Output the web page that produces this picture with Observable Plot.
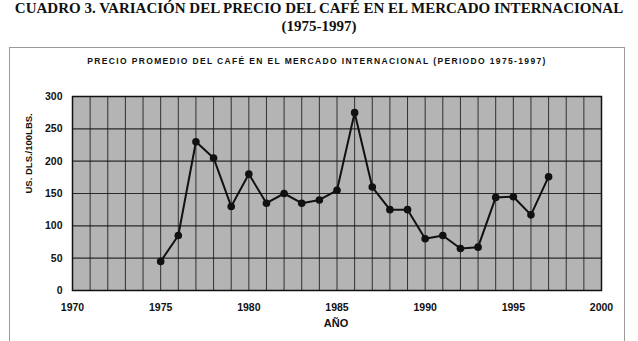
<!DOCTYPE html>
<html>
<head>
<meta charset="utf-8">
<script src="https://cdn.jsdelivr.net/npm/d3@7"></script>
<script src="https://cdn.jsdelivr.net/npm/@observablehq/plot@0.6"></script>
<style>
  html, body { margin: 0; padding: 0; background: #fff; }
  #wrap { position: relative; width: 638px; height: 341px; overflow: hidden; }
  .t1 { position: absolute; left: 0; width: 638px; top: 0px; text-align: center; white-space: nowrap;
        font-family: "Liberation Serif", "Times New Roman", serif; font-weight: bold; font-size: 15px; line-height: 17px; color: #111; }
  .t2 { position: absolute; left: 0; width: 638px; top: 18px; text-align: center; white-space: nowrap;
        font-family: "Liberation Serif", "Times New Roman", serif; font-weight: bold; font-size: 15px; line-height: 17px; color: #111; }
  .box { position: absolute; left: 9px; top: 47px; width: 616px; height: 320px;
         border: 1px solid #9a9a9a; box-sizing: border-box; }
  .sub { position: absolute; left: 0; width: 634px; top: 56px; text-align: center; white-space: nowrap;
         font-family: "Liberation Sans", Arial, sans-serif; font-weight: bold; font-size: 8.5px;
         letter-spacing: 1.35px; color: #111; }
  #chart { position: absolute; left: 0; top: 70px; }
</style>
</head>
<body>
<div id="wrap">
  <div class="t1">CUADRO 3. VARIACIÓN DEL PRECIO DEL CAFÉ EN EL MERCADO INTERNACIONAL</div>
  <div class="t2">(1975-1997)</div>
  <div class="box"></div>
  <div class="sub">PRECIO PROMEDIO DEL CAFÉ EN EL MERCADO INTERNACIONAL (PERIODO 1975-1997)</div>
  <div id="chart"></div>
</div>
<script>
const years = [1975,1976,1977,1978,1979,1980,1981,1982,1983,1984,1985,1986,1987,1988,1989,1990,1991,1992,1993,1994,1995,1996,1997];
const prices = [45,85,230,205,130,180,135,150,135,140,155,275,160,125,125,80,85,65,67,144,145,117,176];
const xTicks = [1970,1975,1980,1985,1990,1995,2000];
const yTicks = [0,50,100,150,200,250,300];
const gridYears = d3.range(1970, 2001);

const data = years.map((y, i) => ({year: y, price: prices[i]}));

const chart = Plot.plot({
  width: 638,
  height: 271,
  marginLeft: 72,
  marginRight: 37,
  marginTop: 26,
  marginBottom: 51,
  style: {fontFamily: "Liberation Sans, Arial, sans-serif", fontSize: "10.5px", fontWeight: "bold", color: "#111", background: "transparent"},
  x: {domain: [1970, 2000], label: null},
  y: {domain: [0, 300], label: null},
  marks: [
    Plot.frame({fill: "#b4b4b4", stroke: null}),
    Plot.gridX(gridYears, {stroke: "#1a1a1a", strokeOpacity: 0.85, strokeWidth: 1}),
    Plot.gridY(yTicks, {stroke: "#1a1a1a", strokeOpacity: 0.9, strokeWidth: 1.2}),
    Plot.frame({stroke: "#111", strokeWidth: 1.5}),
    Plot.axisX(xTicks, {tickSize: 0, tickPadding: 13, tickFormat: d => String(d), style: "letter-spacing:1.5px"}),
    Plot.axisY(yTicks, {tickSize: 0, tickPadding: 10, style: "letter-spacing:0.5px"}),
    Plot.line(data, {x: "year", y: "price", stroke: "#111", strokeWidth: 2}),
    Plot.dot(data, {x: "year", y: "price", r: 3.8, fill: "#111", stroke: "none"}),
    Plot.text(["AÑO"], {frameAnchor: "bottom", dy: 36, dx: -1, text: d => d, fontSize: 11, fontWeight: "bold", style: "letter-spacing:1px"}),
    Plot.text(["US. DLS./100LBS."], {frameAnchor: "left", dx: -44, rotate: -90, text: d => d, fontSize: 9.5, fontWeight: "bold"})
  ]
});
document.getElementById("chart").appendChild(chart);
</script>
</body>
</html>
